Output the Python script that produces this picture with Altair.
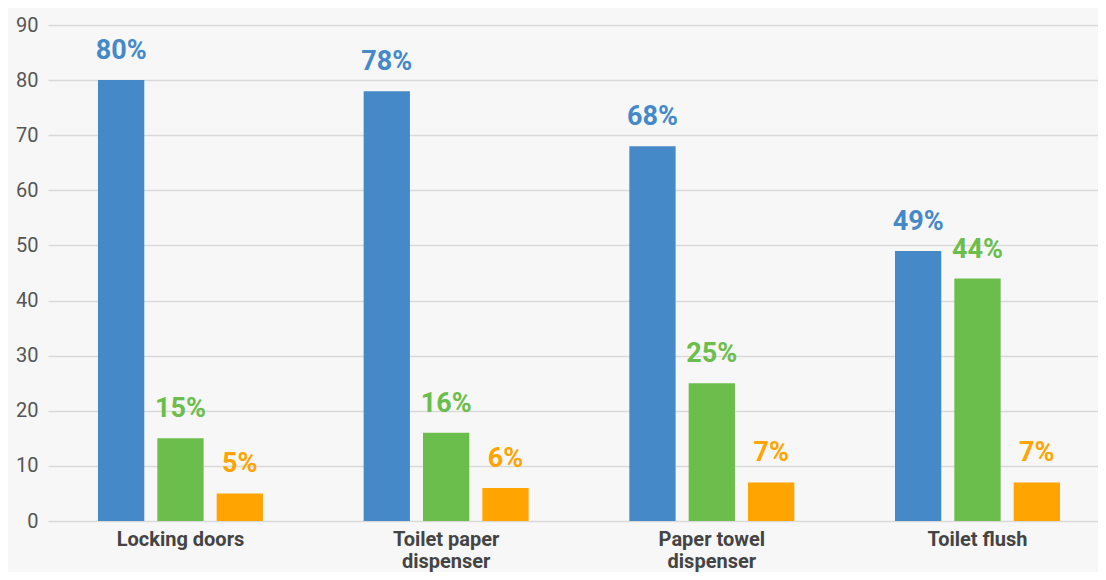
import altair as alt
import pandas as pd

categories = ["Locking doors", "Toilet paper dispenser", "Paper towel dispenser", "Toilet flush"]
series = ["Series 1", "Series 2", "Series 3"]
values_1 = [80, 78, 68, 49]
values_2 = [15, 16, 25, 44]
values_3 = [5, 6, 7, 7]
colors = ["#4589C9", "#6BBE4B", "#FFA400"]
y_ticks = [0, 10, 20, 30, 40, 50, 60, 70, 80, 90]

rows = []
for s, vals in zip(series, [values_1, values_2, values_3]):
    for c, v in zip(categories, vals):
        rows.append({"category": c, "series": s, "value": v})
df = pd.DataFrame(rows)

FONT = "Roboto"

base = alt.Chart(df).encode(
    x=alt.X(
        "category:N",
        sort=categories,
        title=None,
        scale=alt.Scale(paddingInner=0.379, paddingOuter=0.1656, align=0.568),
        axis=alt.Axis(
            labelAngle=0,
            labelFont=FONT,
            labelFontSize=20,
            labelFontWeight="bold",
            labelColor="#444444",
            labelPadding=24,
            labelBaseline="alphabetic",
            labelLineHeight=22.5,
            ticks=False,
            domain=False,
            labelExpr="length(split(datum.value, ' ')) > 2 ? [join(slice(split(datum.value, ' '), 0, 2), ' '), join(slice(split(datum.value, ' '), 2), ' ')] : datum.value",
        ),
    ),
    xOffset=alt.XOffset("series:N", sort=series, scale=alt.Scale(paddingInner=0.22)),
    y=alt.Y(
        "value:Q",
        title=None,
        scale=alt.Scale(domain=[0, 90], nice=False),
        axis=alt.Axis(
            values=y_ticks,
            labelFont=FONT,
            labelFontSize=20,
            labelColor="#555555",
            labelPadding=10,
            ticks=False,
            domain=False,
            gridColor="#D9D9D9",
            gridWidth=1.5,
        ),
    ),
    color=alt.Color("series:N", sort=series, scale=alt.Scale(domain=series, range=colors), legend=None),
)

bars = base.mark_bar()
labels = base.mark_text(
    font=FONT, fontSize=27, fontWeight="bold", baseline="alphabetic", dy=-21
).encode(text=alt.Text("label:N")).transform_calculate(label="datum.value + '%'")

chart = (
    alt.layer(bars, labels)
    .properties(
        width=1050,
        height=496,
        background="#F7F7F7",
        padding={"left": 40, "top": 17, "right": 0, "bottom": 51},
        autosize=alt.AutoSizeParams(type="none"),
    )
    .configure_view(stroke=None)
)

chart.save("out.html", embed_options={"renderer": "svg", "actions": False})
